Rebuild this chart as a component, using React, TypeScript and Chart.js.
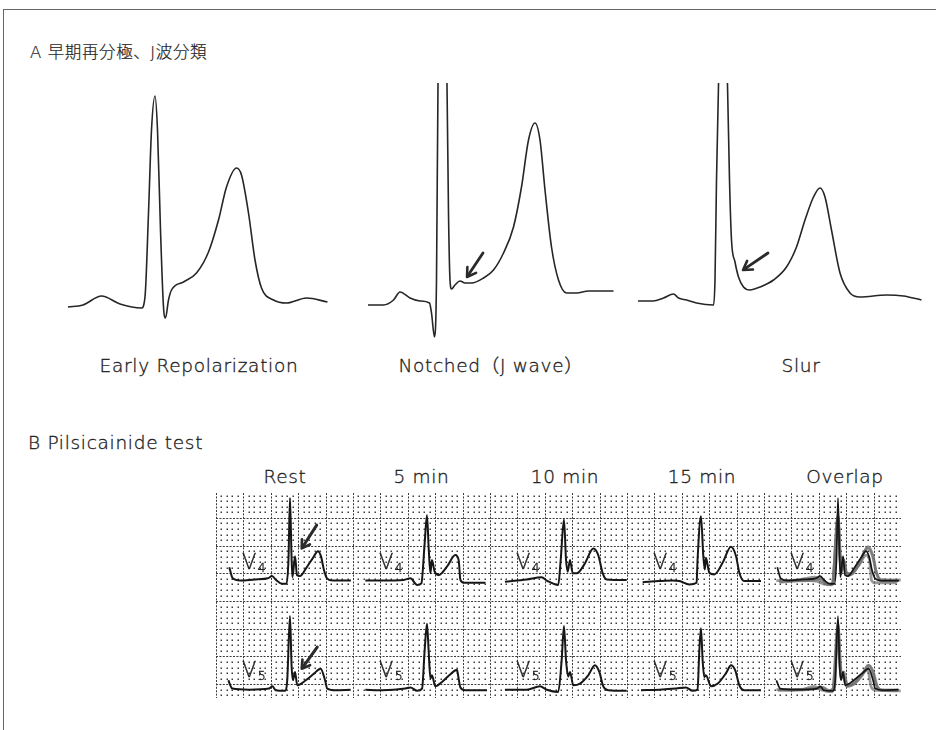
import React, { useEffect, useRef } from "react";
import { Chart, registerables } from "chart.js";

Chart.register(...registerables);

// ---------- Panel A: single beats (time in ms from trace start, amplitude in mV) ----------
const earlyMs = [0, 30, 67, 104, 147, 154, 161, 167, 174, 179, 185, 191, 195, 201, 207, 231, 257, 281, 301, 317, 337, 347, 361, 374, 387, 411, 437, 477, 519];
const earlyMv = [-0.01, 0.01, 0.1, 0.02, -0.02, 0.09, 0.93, 1.76, 2.1, 1.76, 0.76, -0.01, -0.12, 0.06, 0.16, 0.24, 0.33, 0.54, 0.86, 1.19, 1.38, 1.31, 0.93, 0.46, 0.18, 0.06, 0.03, 0.08, 0.04];

const notchMs = [0, 31, 51, 64, 84, 104, 123, 127, 133, 137, 140, 149, 158, 161, 164, 167, 174, 184, 194, 207, 231, 251, 271, 291, 307, 321, 334, 344, 354, 367, 381, 397, 417, 441, 491];
const notchMv = [0, 0, 0.05, 0.13, 0.07, 0.04, 0.02, -0.08, -0.32, 0.25, 2.2, 3.45, 2.2, 0.92, 0.25, 0.16, 0.2, 0.24, 0.22, 0.22, 0.27, 0.35, 0.52, 0.78, 1.18, 1.65, 1.82, 1.65, 1.15, 0.58, 0.25, 0.12, 0.12, 0.14, 0.14];

const slurMs = [0, 30, 51, 71, 81, 97, 117, 151, 154, 157, 161, 169, 179, 183, 187, 194, 201, 211, 224, 244, 271, 297, 317, 334, 351, 364, 374, 387, 404, 424, 444, 497, 531, 567];
const slurMv = [0, 0, 0.03, 0.07, 0.03, 0.01, -0.02, -0.04, 0.21, 1.21, 2.16, 3.41, 2.16, 1.21, 0.61, 0.39, 0.24, 0.14, 0.11, 0.14, 0.21, 0.34, 0.54, 0.81, 1.04, 1.13, 1.04, 0.71, 0.28, 0.08, 0.04, 0.06, 0.05, 0.01];

// J-point arrows: [tail ms, tail mV, head ms, head mV]
const notchArrow = [230, 0.52, 198, 0.28];
const slurArrow = [260, 0.48, 210, 0.31];

const panelALabels = ["Early Repolarization", "Notched（J wave）", "Slur"];

// ---------- Panel B: pilsicainide test strips (ms relative to R peak, mV relative to baseline) ----------
const restV4Ms = [-443, -418, -365, -256, -161, -131, -102, -58, -26, -11, 0, 11, 18, 37, 51, 73, 117, 168, 204, 226, 248, 270, 314, 445];
const restV4Mv = [0.25, 0.05, 0.01, 0.03, 0.05, 0.09, 0.02, -0.05, -0.05, 0.38, 1.5, 0.47, 0.07, 0.45, 0.11, 0.09, 0.23, 0.42, 0.54, 0.45, 0.2, 0.05, 0.01, 0.01];
const min5V4Ms = [-450, -329, -170, -121, -72, -41, -17, 0, 12, 25, 36, 56, 85, 146, 207, 231, 244, 268, 427];
const min5V4Mv = [0.01, 0.01, 0.02, 0.05, -0.07, -0.04, 0.68, 1.19, 0.62, 0.14, 0.38, 0.17, 0.11, 0.26, 0.47, 0.38, 0.02, -0.03, -0.03];
const min10V4Ms = [-431, -272, -163, -126, -42, -24, 0, 15, 27, 44, 64, 93, 153, 214, 250, 283, 312, 458];
const min10V4Mv = [-0.01, 0.03, 0.07, 0.01, -0.07, 0.38, 1.11, 0.38, 0.17, 0.38, 0.14, 0.14, 0.32, 0.59, 0.47, 0.14, 0.03, 0.02];
const min15V4Ms = [-426, -305, -207, -158, -85, -32, -25, 0, 17, 28, 36, 61, 97, 158, 219, 256, 280, 316, 438];
const min15V4Mv = [-0.02, 0.0, 0.01, 0.0, -0.06, -0.03, 0.39, 1.17, 0.45, 0.21, 0.42, 0.15, 0.12, 0.33, 0.62, 0.45, 0.15, 0.0, 0.0];

const restV5Ms = [-450, -421, -299, -153, -129, -104, -37, -20, 0, 12, 22, 37, 53, 115, 175, 224, 256, 272, 334, 443];
const restV5Mv = [0.17, 0.02, 0.0, 0.02, 0.06, -0.01, -0.02, 0.17, 1.33, 0.41, 0.17, 0.32, 0.08, 0.17, 0.29, 0.38, 0.17, 0.02, -0.01, 0.0];
const min5V5Ms = [-450, -328, -158, -121, -72, -36, -17, 0, 12, 25, 36, 61, 110, 171, 219, 231, 244, 280, 438];
const min5V5Mv = [0.0, -0.01, 0.02, 0.04, -0.02, 0.02, 0.71, 1.19, 0.71, 0.2, 0.26, 0.06, 0.14, 0.28, 0.36, 0.2, 0.04, -0.01, -0.01];
const min10V5Ms = [-431, -272, -175, -126, -42, -17, 0, 15, 31, 44, 68, 117, 177, 226, 258, 287, 323, 458];
const min10V5Mv = [0.0, 0.0, 0.06, 0.0, -0.04, 0.53, 1.15, 0.53, 0.24, 0.32, 0.08, 0.11, 0.26, 0.44, 0.32, 0.06, -0.01, -0.02];
const min15V5Ms = [-438, -305, -183, -110, -61, -25, -12, 0, 12, 24, 36, 73, 122, 183, 219, 250, 280, 316, 438];
const min15V5Mv = [-0.01, 0.0, 0.02, 0.04, -0.02, 0.0, 0.71, 1.11, 0.53, 0.23, 0.26, 0.06, 0.11, 0.3, 0.44, 0.35, 0.08, -0.01, -0.01];

// J-wave arrows on the resting strips, relative to R peak / baseline
const restV4Arrow = [195, 1.01, 86, 0.59];
const restV5Arrow = [199, 0.77, 86, 0.38];

const stageLabels = ["Rest", "5 min", "10 min", "15 min", "Overlap"];
const leadNames = ["4", "5"];

// ---------- layout ----------
const FONT = '"DejaVu Sans", "Noto Sans CJK JP", sans-serif';
const INK = "#262626";
const A_TOP = 83;
const A_HEIGHT = 262;
const A_MS_PER_PX = 2;
const A_MV_PER_PX = 0.01;
const panelAFrames = [
  { left: 60, width: 280, originPx: 68, baselinePx: 306, labelX: 199 },
  { left: 350, width: 280, originPx: 368, baselinePx: 305, labelX: 491 },
  { left: 630, width: 300, originPx: 638, baselinePx: 301, labelX: 801 },
];

const B_LEFT = 216;
const B_TOP = 493;
const B_WIDTH = 685;
const B_HEIGHT = 205;
const B_X_MAX = 5000;
const B_Y_MIN = 0.25;
const B_Y_MAX = 3.95;
const COLUMN_MS = 1000;
const R_OFFSET_MS = 540;
const ROW_BASELINE = [2.36, 0.4];
const stageCenters = [285, 421.5, 565, 702, 845];

type Arrow = number[];

function pts(ms: number[], mv: number[], dx = 0, dy = 0) {
  return ms.map((t, i) => ({ x: t + dx, y: mv[i] + dy }));
}

function arrowPlugin(items: Arrow[], width: number, head: number) {
  return {
    id: "jArrows",
    afterDatasetsDraw(chart: any) {
      const { ctx, scales } = chart;
      const sx = scales.x;
      const sy = scales.y;
      ctx.save();
      ctx.strokeStyle = "#2a2a2a";
      ctx.lineCap = "round";
      ctx.lineJoin = "round";
      for (const a of items) {
        const x1 = sx.getPixelForValue(a[0]);
        const y1 = sy.getPixelForValue(a[1]);
        const x2 = sx.getPixelForValue(a[2]);
        const y2 = sy.getPixelForValue(a[3]);
        const ang = Math.atan2(y2 - y1, x2 - x1);
        ctx.lineWidth = width;
        ctx.beginPath();
        ctx.moveTo(x1, y1);
        ctx.lineTo(x2 - Math.cos(ang) * 2, y2 - Math.sin(ang) * 2);
        ctx.stroke();
        ctx.lineWidth = width * 0.9;
        ctx.beginPath();
        ctx.moveTo(x2 - head * Math.cos(ang - 0.55), y2 - head * Math.sin(ang - 0.55));
        ctx.lineTo(x2, y2);
        ctx.lineTo(x2 - head * Math.cos(ang + 0.55), y2 - head * Math.sin(ang + 0.55));
        ctx.stroke();
      }
      ctx.restore();
    },
  };
}

// ECG paper: dots on the 1 mm lattice, dashed 5 mm lines
const paperPlugin = {
  id: "ecgPaper",
  beforeDatasetsDraw(chart: any) {
    const { ctx, chartArea: a, scales } = chart;
    const sx = scales.x;
    const sy = scales.y;
    ctx.save();
    ctx.fillStyle = "#3c3c3c";
    for (let t = 0; t <= B_X_MAX; t += 40) {
      if (t % 200 === 0) continue;
      const px = Math.round(sx.getPixelForValue(t));
      for (let m = 3; m <= 39; m++) {
        if (m % 5 === 0) continue;
        const py = Math.round(sy.getPixelForValue(m / 10));
        ctx.fillRect(px - 0.5, py - 0.5, 1.5, 1.5);
      }
    }
    ctx.strokeStyle = "#3a3a3a";
    ctx.lineWidth = 1;
    ctx.setLineDash([2, 1.4]);
    for (let t = 0; t <= B_X_MAX; t += 200) {
      const px = Math.round(sx.getPixelForValue(t)) + 0.5;
      ctx.beginPath();
      ctx.moveTo(px, a.top);
      ctx.lineTo(px, a.bottom);
      ctx.stroke();
    }
    for (let m = 5; m <= 35; m += 5) {
      const py = Math.round(sy.getPixelForValue(m / 10)) + 0.5;
      ctx.beginPath();
      ctx.moveTo(a.left, py);
      ctx.lineTo(a.right, py);
      ctx.stroke();
    }
    ctx.restore();
  },
};

function ChartCanvas({ left, top, width, height, build }: { left: number; top: number; width: number; height: number; build: () => any }) {
  const ref = useRef<HTMLCanvasElement>(null);
  useEffect(() => {
    const chart = new Chart(ref.current as HTMLCanvasElement, build());
    return () => chart.destroy();
  }, []);
  return (
    <canvas
      ref={ref}
      width={width}
      height={height}
      style={{ position: "absolute", left, top, width, height, display: "block" }}
    />
  );
}

function baseOptions(xMin: number, xMax: number, yMin: number, yMax: number) {
  return {
    animation: false,
    responsive: false,
    maintainAspectRatio: false,
    events: [],
    layout: { padding: 0 },
    elements: { point: { radius: 0 } },
    scales: {
      x: { type: "linear", display: false, min: xMin, max: xMax },
      y: { type: "linear", display: false, min: yMin, max: yMax },
    },
    plugins: { legend: { display: false }, tooltip: { enabled: false } },
  };
}

const panelATraces = [
  { ms: earlyMs, mv: earlyMv, arrows: [] as Arrow[] },
  { ms: notchMs, mv: notchMv, arrows: [notchArrow] },
  { ms: slurMs, mv: slurMv, arrows: [slurArrow] },
];

function buildPanelA(i: number) {
  const f = panelAFrames[i];
  const tr = panelATraces[i];
  const xMin = (f.left - f.originPx) * A_MS_PER_PX;
  const xMax = xMin + f.width * A_MS_PER_PX;
  const yMax = (f.baselinePx - A_TOP) * A_MV_PER_PX;
  const yMin = yMax - A_HEIGHT * A_MV_PER_PX;
  return {
    type: "line",
    data: {
      datasets: [
        {
          data: pts(tr.ms, tr.mv),
          borderColor: INK,
          borderWidth: 1.6,
          pointRadius: 0,
          fill: false,
          cubicInterpolationMode: "monotone",
        },
      ],
    },
    options: baseOptions(xMin, xMax, yMin, yMax),
    plugins: [arrowPlugin(tr.arrows, 2.8, 10)],
  };
}

const stripTraces = [
  [
    { ms: restV4Ms, mv: restV4Mv },
    { ms: min5V4Ms, mv: min5V4Mv },
    { ms: min10V4Ms, mv: min10V4Mv },
    { ms: min15V4Ms, mv: min15V4Mv },
  ],
  [
    { ms: restV5Ms, mv: restV5Mv },
    { ms: min5V5Ms, mv: min5V5Mv },
    { ms: min10V5Ms, mv: min10V5Mv },
    { ms: min15V5Ms, mv: min15V5Mv },
  ],
];

function buildPanelB() {
  const datasets: any[] = [];
  const arrows: Arrow[] = [];
  stripTraces.forEach((row, r) => {
    const base = ROW_BASELINE[r];
    row.forEach((tr, k) => {
      const rx = k * COLUMN_MS + R_OFFSET_MS;
      datasets.push({
        data: pts(tr.ms, tr.mv, rx, base),
        borderColor: "#161616",
        borderWidth: 2,
        order: 0,
      });
      // overlap column: drug strips in grey under the resting strip
      const ox = 4 * COLUMN_MS + R_OFFSET_MS;
      datasets.push({
        data: pts(tr.ms, tr.mv, ox, base),
        borderColor: k === 0 ? "#161616" : "rgba(110,110,110,0.7)",
        borderWidth: k === 0 ? 1.7 : 2.8,
        order: k === 0 ? 0 : 1,
      });
    });
    const ar = r === 0 ? restV4Arrow : restV5Arrow;
    arrows.push([ar[0] + R_OFFSET_MS, ar[1] + base, ar[2] + R_OFFSET_MS, ar[3] + base]);
  });
  datasets.forEach((d) => {
    d.pointRadius = 0;
    d.fill = false;
    d.cubicInterpolationMode = "monotone";
  });
  return {
    type: "line",
    data: { datasets },
    options: baseOptions(0, B_X_MAX, B_Y_MIN, B_Y_MAX),
    plugins: [paperPlugin, arrowPlugin(arrows, 3, 9)],
  };
}

const textStyle: React.CSSProperties = {
  position: "absolute",
  fontFamily: FONT,
  fontWeight: 200,
  color: "#1e1e1e",
  whiteSpace: "nowrap",
  letterSpacing: "0.7px",
  WebkitTextStroke: "0.35px #1e1e1e",
};

export default function App() {
  return (
    <div style={{ position: "absolute", left: 0, top: 0, width: 936, height: 730, background: "#fff", overflow: "hidden" }}>
      <div
        style={{
          position: "absolute",
          left: 3,
          top: 9,
          width: 940,
          height: 730,
          borderTop: "1px solid #666",
          borderLeft: "1px solid #666",
        }}
      />
      <div style={{ ...textStyle, left: 30, top: 43, fontSize: 16.5, lineHeight: "20px", letterSpacing: "0.6px", WebkitTextStroke: "0.2px #1e1e1e" }}>
        A 早期再分極、J波分類
      </div>

      {panelAFrames.map((f, i) => (
        <ChartCanvas key={"a" + i} left={f.left} top={A_TOP} width={f.width} height={A_HEIGHT} build={() => buildPanelA(i)} />
      ))}
      {panelAFrames.map((f, i) => (
        <div
          key={"al" + i}
          style={{ ...textStyle, left: f.labelX - 150, width: 300, textAlign: "center", top: 354, fontSize: 18.5, lineHeight: "24px" }}
        >
          {panelALabels[i]}
        </div>
      ))}

      <div style={{ ...textStyle, left: 28, top: 431, fontSize: 18.5, lineHeight: "24px" }}>B Pilsicainide test</div>

      {stageLabels.map((s, k) => (
        <div
          key={"s" + k}
          style={{ ...textStyle, left: stageCenters[k] - 60, width: 120, textAlign: "center", top: 465, fontSize: 18.5, lineHeight: "24px" }}
        >
          {s}
        </div>
      ))}

      <ChartCanvas left={B_LEFT} top={B_TOP} width={B_WIDTH} height={B_HEIGHT} build={buildPanelB} />

      {leadNames.map((n, r) =>
        stageLabels.map((_, k) => (
          <div
            key={"v" + r + k}
            style={{ ...textStyle, left: B_LEFT + 137 * k + 26, top: r === 0 ? 551 : 659, fontSize: 21, lineHeight: "22px", letterSpacing: 0 }}
          >
            V<span style={{ fontSize: 13, position: "relative", top: 3, marginLeft: 1 }}>{n}</span>
          </div>
        ))
      )}
    </div>
  );
}
